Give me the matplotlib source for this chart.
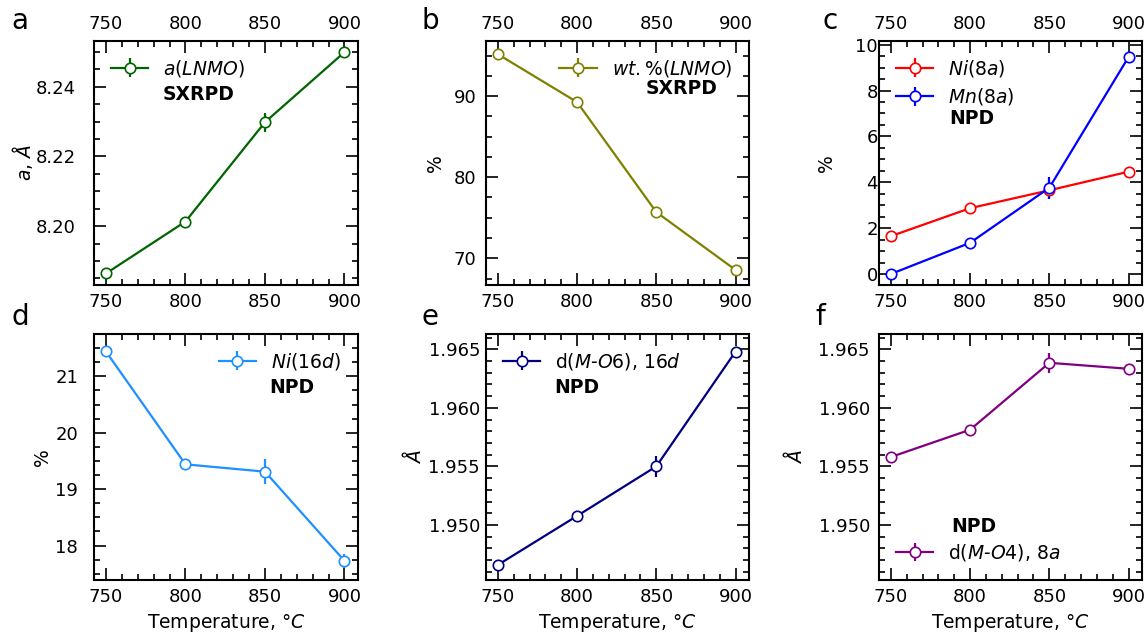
import matplotlib
matplotlib.use("Agg")
import matplotlib.pyplot as plt
from matplotlib.ticker import MultipleLocator, FormatStrFormatter

temps = [750, 800, 850, 900]

a_lnmo = [8.1864, 8.2013, 8.2298, 8.2499]
a_err = [0.0005, 0.0005, 0.0027, 0.0005]

wt_lnmo = [95.17, 89.26, 75.69, 68.56]
wt_err = [0.2, 0.2, 0.2, 0.2]

ni_8a = [1.65, 2.87, 3.65, 4.46]
ni_8a_err = [0.1, 0.1, 0.4, 0.2]
mn_8a = [0.0, 1.36, 3.76, 9.46]
mn_8a_err = [0.1, 0.1, 0.48, 0.25]

ni_16d = [21.44, 19.44, 19.31, 17.73]
ni_16d_err = [0.05, 0.05, 0.22, 0.12]

d_mo6 = [1.94659, 1.95077, 1.95500, 1.96480]
d_mo6_err = [0.0002, 0.0002, 0.0009, 0.0002]

d_mo4 = [1.95580, 1.95813, 1.96384, 1.96333]
d_mo4_err = [0.0002, 0.0002, 0.00085, 0.0002]

plt.rcParams['font.family'] = ['DejaVu Sans']
plt.rcParams['mathtext.fontset'] = 'dejavusans'

W, H = 1146, 635
fig = plt.figure(figsize=(W / 100, H / 100), dpi=100)

def rect(l, r, t, b):
    return [l / W, 1 - b / H, (r - l) / W, (b - t) / H]

cols = [(94, 358), (486, 749), (879, 1142)]
rows = [(41, 285), (334, 580)]

FS = 13
LFS = 13.5

def style(ax, top_labels, ypad, ymaj, ymin, ylim):
    ax.set_xlim(742.5, 908.5)
    ax.set_ylim(*ylim)
    ax.xaxis.set_major_locator(MultipleLocator(50))
    ax.xaxis.set_minor_locator(MultipleLocator(10))
    ax.yaxis.set_major_locator(MultipleLocator(ymaj))
    ax.yaxis.set_minor_locator(MultipleLocator(ymin))
    ax.tick_params(which='both', direction='in', top=True, right=True,
                   labeltop=top_labels, labelsize=FS, width=1.2)
    ax.tick_params(which='major', length=8.5)
    ax.tick_params(which='minor', length=4)
    ax.tick_params(axis='x', pad=6)
    ax.tick_params(axis='y', pad=ypad)
    for s in ax.spines.values():
        s.set_linewidth(1.5)

def eb(ax, y, err, color, label):
    ax.errorbar(temps, y, yerr=err, color=color, marker='o', ms=7.5,
                mfc='white', mec=color, mew=1.2, lw=1.6, elinewidth=1.6,
                capsize=0, label=label)

# a
ax = fig.add_axes(rect(*cols[0], *rows[0]))
eb(ax, a_lnmo, a_err, '#006400', r'$a(LNMO)$')
style(ax, True, 13, 0.02, 0.005, (8.1831, 8.2531))
ax.set_ylabel(r'$a$, $\AA$', fontsize=LFS)
ax.yaxis.set_label_coords(-0.225, 0.5)
ax.legend(loc='upper left', frameon=False, fontsize=LFS)
ax.text(0.261, 0.779, 'SXRPD', transform=ax.transAxes, fontsize=LFS,
        fontweight='bold', va='center', ha='left')

# b
ax = fig.add_axes(rect(*cols[1], *rows[0]))
eb(ax, wt_lnmo, wt_err, '#808000', r'$wt.\%(LNMO)$')
style(ax, True, 6.7, 10, 2.5, (66.7, 96.8))
ax.set_ylabel('%', fontsize=LFS)
ax.yaxis.set_label_coords(-0.155, 0.5)
ax.legend(loc='upper right', frameon=False, fontsize=LFS)
ax.text(0.608, 0.806, 'SXRPD', transform=ax.transAxes, fontsize=LFS,
        fontweight='bold', va='center', ha='left')

# c
ax = fig.add_axes(rect(*cols[2], *rows[0]))
eb(ax, ni_8a, ni_8a_err, '#ff0000', r'$Ni(8a)$')
eb(ax, mn_8a, mn_8a_err, '#0000ff', r'$Mn(8a)$')
style(ax, True, 0.7, 2, 0.5, (-0.48, 10.16))
ax.set_ylabel('%', fontsize=LFS)
ax.yaxis.set_label_coords(-0.163, 0.5)
ax.legend(loc='upper left', frameon=False, fontsize=LFS, labelspacing=0.4)
ax.text(0.266, 0.682, 'NPD', transform=ax.transAxes, fontsize=LFS,
        fontweight='bold', va='center', ha='left')

# d
ax = fig.add_axes(rect(*cols[0], *rows[1]))
eb(ax, ni_16d, ni_16d_err, '#1e90ff', r'$Ni(16d)$')
style(ax, False, 11.5, 1, 0.25, (17.39, 21.75))
ax.set_ylabel('%', fontsize=LFS)
ax.yaxis.set_label_coords(-0.16, 0.5)
ax.set_xlabel(r'Temperature, °$C$', fontsize=LFS)
ax.legend(loc='upper right', frameon=False, fontsize=LFS)
ax.text(0.665, 0.783, 'NPD', transform=ax.transAxes, fontsize=LFS,
        fontweight='bold', va='center', ha='left')

# e
ax = fig.add_axes(rect(*cols[1], *rows[1]))
eb(ax, d_mo6, d_mo6_err, '#000080', r'd($M$-$O6$), 16$d$')
style(ax, False, 4.3, 0.005, 0.001, (1.9453, 1.9663))
ax.yaxis.set_major_formatter(FormatStrFormatter('%.3f'))
ax.set_ylabel(r'$\AA$', fontsize=LFS)
ax.yaxis.set_label_coords(-0.232, 0.5)
ax.set_xlabel(r'Temperature, °$C$', fontsize=LFS)
ax.legend(loc='upper left', frameon=False, fontsize=LFS)
ax.text(0.26, 0.783, 'NPD', transform=ax.transAxes, fontsize=LFS,
        fontweight='bold', va='center', ha='left')

# f
ax = fig.add_axes(rect(*cols[2], *rows[1]))
eb(ax, d_mo4, d_mo4_err, '#800080', r'd($M$-$O4$), 8$a$')
style(ax, False, 6.5, 0.005, 0.001, (1.9453, 1.9663))
ax.yaxis.set_major_formatter(FormatStrFormatter('%.3f'))
ax.set_ylabel(r'$\AA$', fontsize=LFS)
ax.yaxis.set_label_coords(-0.278, 0.5)
ax.set_xlabel(r'Temperature, °$C$', fontsize=LFS)
ax.legend(loc='lower left', frameon=False, fontsize=LFS)
ax.text(0.273, 0.217, 'NPD', transform=ax.transAxes, fontsize=LFS,
        fontweight='bold', va='center', ha='left')

for lab, x, y in [('a', 20, 21), ('b', 430, 21), ('c', 830, 21),
                  ('d', 20, 317), ('e', 430, 317), ('f', 820, 317)]:
    fig.text(x / W, 1 - y / H, lab, fontsize=20, ha='center', va='center')

fig.savefig('out.png', dpi=100)
